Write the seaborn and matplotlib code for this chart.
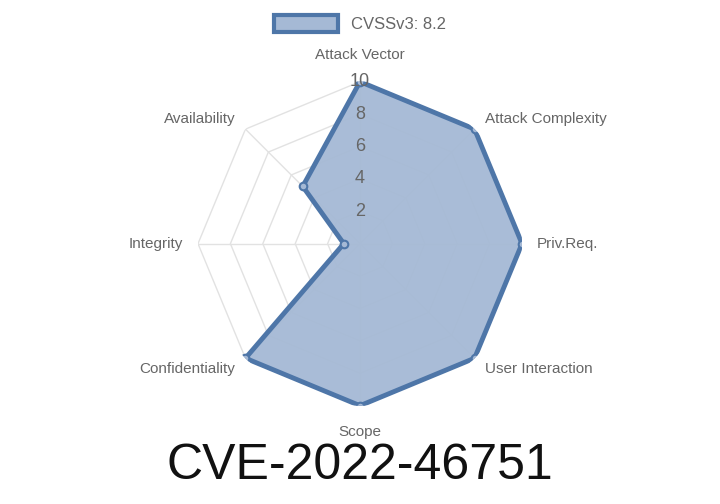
import numpy as np
import matplotlib
matplotlib.use("Agg")
import matplotlib.pyplot as plt
import matplotlib.patches as mpatches
import seaborn as sns

sns.set_theme(style="white")
plt.rcParams['font.family'] = ['Liberation Sans', 'DejaVu Sans']

categories = ["Attack Vector", "Attack Complexity", "Priv.Req.", "User Interaction",
              "Scope", "Confidentiality", "Integrity", "Availability"][:0] or \
             ["Attack Vector", "Attack Complexity", "Priv.Req.", "User Interaction",
              "Scope", "Confidentiality", "Integrity", "Availability"]
values = [10, 10, 10, 10, 10, 10, 1, 5]
ticks = [2, 4, 6, 8, 10]
legend_label = "CVSSv3: 8.2"
title = "CVE-2022-46751"

line_color = "#4e76a8"
fill_color = "#a5b9d5"
text_color = "#666666"

n = len(categories)
angles = np.linspace(0, 2 * np.pi, n, endpoint=False)
closed = np.append(angles, angles[0])

fig = plt.figure(figsize=(7.2, 5.04), dpi=100)
ax = fig.add_axes([0.275, 0.195, 0.45, 0.643], projection="polar")
ax.set_theta_zero_location("N")
ax.set_theta_direction(-1)
ax.set_ylim(0, 10)
ax.grid(False)
ax.spines["polar"].set_visible(False)
ax.set_xticks([])
ax.set_yticks([])
ax.patch.set_alpha(0)

for lvl in ticks:
    ax.plot(closed, [lvl] * (n + 1), color="#e2e2e2", lw=1, zorder=1)
for a in angles:
    ax.plot([a, a], [0, 10], color="#e2e2e2", lw=1, zorder=1)

vals = np.append(values, values[0])
ax.fill(closed, vals, color=fill_color, alpha=0.95, zorder=2)
ax.plot(closed, vals, color=line_color, lw=3.5, zorder=3)
ax.scatter(angles, values, s=30, facecolor=fill_color, edgecolor=line_color,
           linewidth=1.5, zorder=4)

for lvl in ticks:
    ax.text(0, lvl, str(lvl), ha="center", va="center", fontsize=13,
            color=text_color, zorder=5)

for a, lab in zip(angles, categories):
    s, c = np.sin(a), np.cos(a)
    ha = "center" if abs(s) < 0.1 else ("left" if s > 0 else "right")
    va = "bottom" if c > 0.9 else ("top" if c < -0.9 else "center")
    r = 10.9 if abs(s) > 0.1 else 11.2
    ax.text(a, r, lab, ha=ha, va=va, fontsize=11, color=text_color)

handle = mpatches.Patch(facecolor=fill_color, edgecolor=line_color, linewidth=3)
fig.legend([handle], [legend_label], loc="upper center", bbox_to_anchor=(0.5, 1.0),
           frameon=False, fontsize=12, labelcolor=text_color,
           handlelength=3.8, handleheight=1.2)

fig.text(0.5, 0.075, title, ha="center", va="center", fontsize=36, color="#111111")

fig.savefig("out.png", dpi=100)
